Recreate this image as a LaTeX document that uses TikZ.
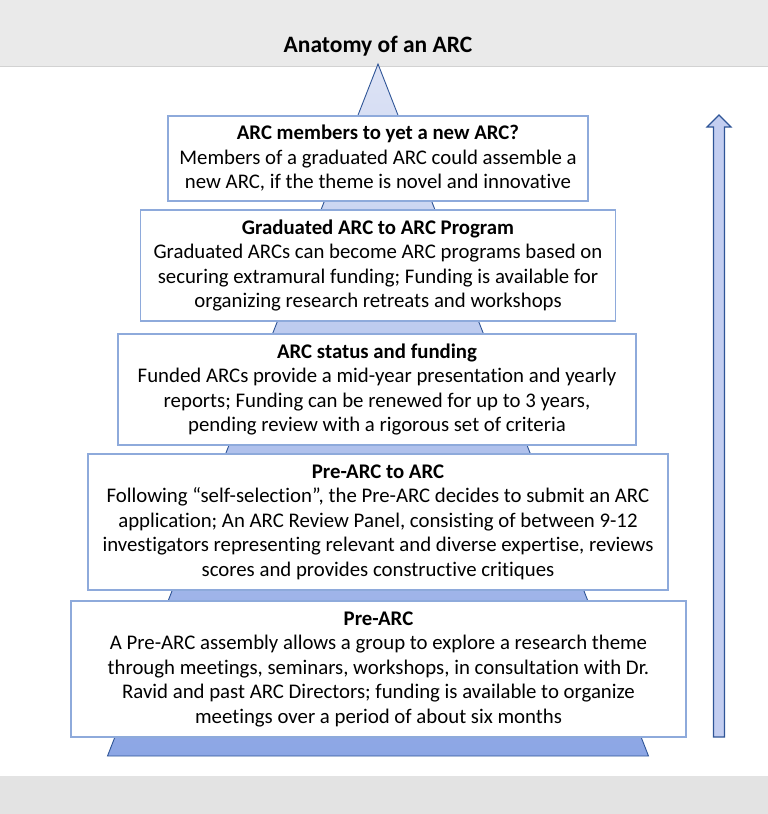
\documentclass[tikz,border=0pt]{standalone}
\usepackage{fontspec}
\setmainfont{Carlito}[Ligatures=NoCommon]
\usetikzlibrary{positioning}
\definecolor{bandgray}{HTML}{EAEAEA}
\definecolor{bandline}{HTML}{D2D2D2}
\definecolor{boxline}{HTML}{8EAADB}
\definecolor{pyrline}{HTML}{2F5597}
\definecolor{pyrtop}{HTML}{DDE3F5}
\definecolor{pyrbottom}{HTML}{8CA6E5}
\definecolor{arrowfill}{HTML}{C3CEF1}

\begin{document}
\begin{tikzpicture}[x=1pt, y=-1pt,
    levelbox/.style={rectangle, draw=boxline, line width=1.6pt, fill=white,
      inner sep=0pt, align=center, font=\fontsize{20.8}{24.5}\selectfont},
    head/.style={font=\fontsize{23.5}{26}\selectfont\bfseries},
  ]
  \useasboundingbox (0,0) rectangle (768,814);

  % Grey bands
  \fill[bandgray] (0,0) rectangle (768,66);
  \draw[bandline, line width=1pt] (0,66) -- (768,66);
  \fill[bandgray!97!black] (0,776) rectangle (768,814);

  % Title
  \node[head] (title) at (378,46) {Anatomy of an ARC};

  % Pyramid behind the boxes
  \path[top color=pyrtop, bottom color=pyrbottom, draw=pyrline, line width=0.9pt]
    (378,64) -- (648.5,756) -- (107.5,756) -- cycle;

  % Upward arrow
  \path[fill=arrowfill, draw=pyrline, line width=1.1pt, line join=miter]
    (719,115) -- (731,127) -- (724.5,127) -- (724.5,737) -- (713.5,737)
    -- (713.5,127) -- (707,127) -- cycle;

  % Levels, top to bottom
  \node[levelbox, minimum width=420, minimum height=85] (arcnew) at (378,158.5)
    {\textbf{ARC members to yet a new ARC?}\\
     Members of a graduated ARC could assemble a\\
     new ARC, if the theme is novel and innovative};
  \node[levelbox, minimum width=475, minimum height=111] (arcprog) at (378,265.5)
    {\textbf{Graduated ARC to ARC Program}\\
     Graduated ARCs can become ARC programs based on\\
     securing extramural funding; Funding is available for\\
     organizing research retreats and workshops};
  \node[levelbox, minimum width=518, minimum height=111] (arcfund) at (377,389.5)
    {\textbf{ARC status and funding}\\
     Funded ARCs provide a mid-year presentation and yearly\\
     reports; Funding can be renewed for up to 3 years,\\
     pending review with a rigorous set of criteria};
  \node[levelbox, minimum width=580, minimum height=136] (prearcarc) at (378,522)
    {\textbf{Pre-ARC to ARC}\\
     Following “self-selection”, the Pre-ARC decides to submit an ARC\\
     application; An ARC Review Panel, consisting of between 9-12\\
     investigators representing relevant and diverse expertise, reviews\\
     scores and provides constructive critiques};
  \node[levelbox, minimum width=615, minimum height=136] (prearc) at (378.5,669)
    {\textbf{Pre-ARC}\\
     A Pre-ARC assembly allows a group to explore a research theme\\
     through meetings, seminars, workshops, in consultation with Dr.\\
     Ravid and past ARC Directors; funding is available to organize\\
     meetings over a period of about six months};

\end{tikzpicture}
\end{document}
